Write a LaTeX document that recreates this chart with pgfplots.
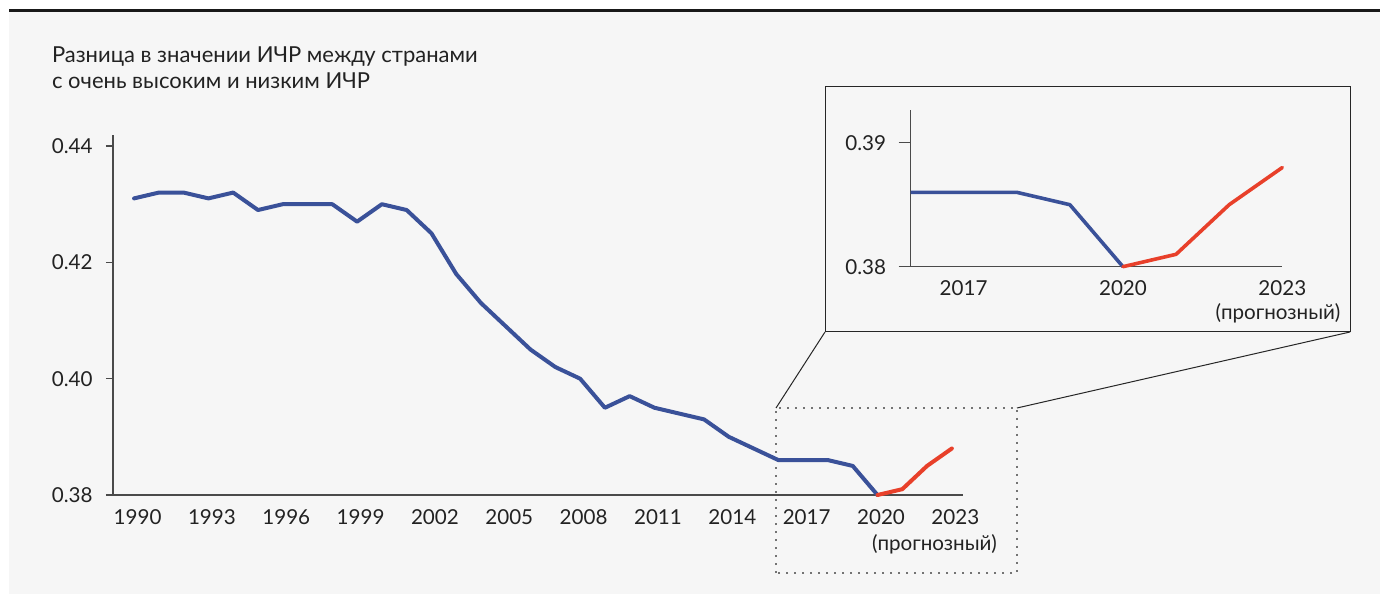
\documentclass[border=0pt]{standalone}
\usepackage{fontspec}
\setmainfont{Lato}
\usepackage{pgfplots}
\usepackage{pgfplotstable}
\pgfplotsset{compat=1.18}

\definecolor{panel}{HTML}{F6F6F6}
\definecolor{hdiblue}{HTML}{3A5199}
\definecolor{hdired}{HTML}{E8402A}
\definecolor{axisgray}{HTML}{4A4A4A}
\definecolor{txt}{HTML}{222222}

% HDI gap, observed 1990-2020
\pgfplotstableread{
year gap
1990 0.431
1991 0.432
1992 0.432
1993 0.431
1994 0.432
1995 0.429
1996 0.430
1997 0.430
1998 0.430
1999 0.427
2000 0.430
2001 0.429
2002 0.425
2003 0.418
2004 0.413
2005 0.409
2006 0.405
2007 0.402
2008 0.400
2009 0.395
2010 0.397
2011 0.395
2012 0.394
2013 0.393
2014 0.390
2015 0.388
2016 0.386
2017 0.386
2018 0.386
2019 0.385
2020 0.380
}\observed

% forecast 2020-2023
\pgfplotstableread{
year gap
2020 0.380
2021 0.381
2022 0.385
2023 0.388
}\forecast

\pgfplotsset{
  hdi/.style={
    scale only axis,
    clip=false,
    axis x line=bottom,
    axis y line=left,
    axis line style={axisgray, line width=0.75pt, -},
    tick align=outside,
    x tick style={draw=none},
    y tick style={axisgray, line width=0.75pt},
    /pgf/number format/assume math mode=true,
    tick label style={font=\fontsize{10.3}{12}\selectfont, text=txt, inner sep=0pt},
    xticklabel style={/pgf/number format/1000 sep={}, anchor=north},
    yticklabel style={/pgf/number format/fixed, /pgf/number format/fixed zerofill, /pgf/number format/precision=2},
  },
}

\begin{document}
\begin{tikzpicture}
\path[use as bounding box] (0,0) rectangle (690pt,297pt);
\fill[white] (0,0) rectangle (690pt,297pt);
\fill[panel] (4.5pt,0) rectangle (690pt,292.5pt);
\draw[black!90, line width=1.5pt] (4.5pt,291.75pt) -- (690pt,291.75pt);

\node[anchor=base west, text=txt, font=\fontsize{11}{13}\selectfont] at (22.5pt,265.5pt) {Разница в значении ИЧР между странами};
\node[anchor=base west, text=txt, font=\fontsize{11}{13}\selectfont] at (22.5pt,252.5pt) {с очень высоким и низким ИЧР};

% zoom frame and connectors
\draw[black!55, line width=0.6pt, dash pattern=on 1.2pt off 2.8pt] (388pt,10.5pt) rectangle (508.5pt,93pt);
\draw[black!85, line width=0.5pt] (388pt,93pt) -- (412.5pt,131pt);
\draw[black!85, line width=0.5pt] (508.5pt,93pt) -- (675pt,131pt);
\draw[black!85, line width=0.5pt] (412.5pt,131pt) rectangle (675pt,253.5pt);

\begin{axis}[hdi,
  at={(56.5pt,49.5pt)}, anchor=south west,
  width=425pt, height=180pt,
  xmin=1989.15, xmax=2023.45,
  ymin=0.38, ymax=0.4419,
  xtick={1990,1993,...,2023},
  ytick={0.38,0.40,0.42,0.44},
  major tick length=3.5pt,
  xticklabel style={xshift=1.75pt, yshift=-3.5pt},
  yticklabel style={xshift=-6.5pt},
]
\addplot[hdiblue, line width=2pt, line join=round, line cap=round] table[x=year, y=gap] {\observed};
\addplot[hdired, line width=2pt, line join=round, line cap=round] table[x=year, y=gap] {\forecast};
\node[anchor=base, text=txt, font=\fontsize{10.3}{12}\selectfont] at (axis cs:2022.3,0.38) [yshift=-27.5pt] {(прогнозный)};
\end{axis}

\begin{axis}[hdi,
  at={(455.25pt,163.65pt)}, anchor=south west,
  width=185.9pt, height=78.35pt,
  xmin=2016, xmax=2023,
  ymin=0.38, ymax=0.39264,
  xtick={2017,2020,2023},
  ytick={0.38,0.39},
  major tick length=6pt,
  axis line style={line width=0.6pt},
  y tick style={line width=0.6pt},
  xticklabel style={yshift=-0.7pt},
  yticklabel style={xshift=-6pt},
]
\addplot[hdiblue, line width=1.8pt, line join=round, restrict x to domain=2016:2023] table[x=year, y=gap] {\observed};
\addplot[hdired, line width=1.8pt, line join=round, line cap=round] table[x=year, y=gap] {\forecast};
\node[anchor=base, text=txt, font=\fontsize{10.3}{12}\selectfont] at (axis cs:2022.92,0.38) [yshift=-26.6pt] {(прогнозный)};
\end{axis}
\end{tikzpicture}
\end{document}
